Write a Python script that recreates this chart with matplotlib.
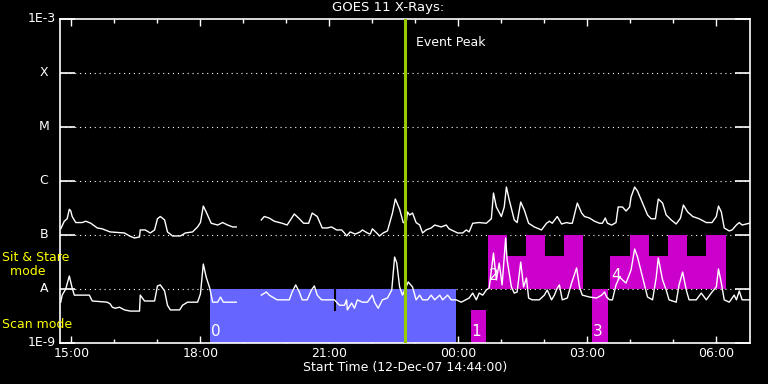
import numpy as np
import matplotlib
matplotlib.use("Agg")
import matplotlib.pyplot as plt
from matplotlib.transforms import blended_transform_factory

# time in minutes after the start time (12-Dec-07 14:44:00)
start_hour, start_min = 14, 44

# long channel (upper curve), flux in W/m^2, NaN marks the data gap
long_t = [1, 6, 10, 13, 15, 17, 22, 31, 36, 43, 52, 59, 70, 90, 97, 104, 111, 112, 119, 126,
          132, 136, 140, 146, 150, 157, 168, 175, 185, 192, 196, 200, 204, 211, 220, 227, 234,
          241, 246, 263,
          281, 285, 292, 299, 310, 317, 327, 334, 340, 347, 352, 359, 366, 373, 379, 386, 393,
          397, 400, 405, 412, 419, 422, 429, 433, 436, 442, 446, 451, 457, 464, 468, 474, 479,
          483, 485, 488, 492, 497, 502, 506, 511, 518, 523, 532, 539, 543, 555, 562, 567, 571,
          576, 585, 595, 602, 605, 609, 616, 620, 623, 627, 634, 638, 643, 648, 654, 662, 672,
          679, 683, 687, 694, 700, 707, 711, 715, 722, 728, 732, 739, 746, 753, 757, 761, 764,
          770, 776, 779, 785, 790, 795, 797, 802, 806, 813, 820, 825, 831, 835, 841, 846, 853,
          860, 866, 870, 876, 883, 892, 902, 910, 916, 919, 923, 927, 934, 938, 944, 948, 952,
          958, 962]
long_flux = [1.3e-7, 1.8e-7, 2.0e-7, 3.0e-7, 2.8e-7, 2.2e-7, 1.7e-7, 1.7e-7, 1.8e-7, 1.65e-7,
             1.35e-7, 1.3e-7, 1.14e-7, 1.09e-7, 9.6e-8, 8.8e-8, 9.2e-8, 1.24e-7, 1.24e-7, 1.09e-7,
             1.24e-7, 2.0e-7, 2.2e-7, 1.9e-7, 1.14e-7, 9.6e-8, 9.6e-8, 1.09e-7, 1.14e-7, 1.41e-7,
             1.7e-7, 3.44e-7, 2.67e-7, 1.65e-7, 1.53e-7, 1.7e-7, 1.53e-7, 1.41e-7, 1.41e-7, np.nan,
             1.9e-7, 2.2e-7, 2.06e-7, 1.8e-7, 1.65e-7, 1.53e-7, 2.45e-7, 2.0e-7, 1.65e-7, 1.65e-7,
             2.55e-7, 2.2e-7, 1.35e-7, 1.35e-7, 1.41e-7, 1.24e-7, 1.24e-7, 1.09e-7, 9.6e-8, 1.14e-7,
             1.04e-7, 1.14e-7, 1.24e-7, 1.09e-7, 1.04e-7, 1.3e-7, 1.09e-7, 9.6e-8, 1.09e-7, 1.19e-7,
             2.55e-7, 4.64e-7, 3.0e-7, 1.7e-7, 1.65e-7, 2.67e-7, 2.35e-7, 2.55e-7, 1.7e-7, 1.53e-7,
             1.09e-7, 1.24e-7, 1.35e-7, 1.53e-7, 1.41e-7, 1.53e-7, 1.3e-7, 1.09e-7, 1.09e-7, 1.24e-7,
             1.14e-7, 1.65e-7, 1.7e-7, 1.65e-7, 2.0e-7, 5.99e-7, 3.3e-7, 2.2e-7, 3.3e-7, 7.74e-7,
             4.45e-7, 1.9e-7, 1.7e-7, 4.08e-7, 2.9e-7, 1.65e-7, 1.41e-7, 1.24e-7, 1.65e-7, 1.8e-7,
             1.65e-7, 2.2e-7, 1.6e-7, 1.7e-7, 1.65e-7, 1.65e-7, 3.91e-7, 2.55e-7, 2.2e-7, 2.06e-7,
             1.8e-7, 1.65e-7, 1.65e-7, 2.06e-7, 1.65e-7, 1.53e-7, 1.7e-7, 3.3e-7, 3.3e-7, 2.78e-7,
             3.3e-7, 5.05e-7, 7.74e-7, 6.52e-7, 3.91e-7, 2.35e-7, 2.0e-7, 2.0e-7, 4.64e-7, 3.91e-7,
             2.35e-7, 1.9e-7, 1.6e-7, 2.06e-7, 3.59e-7, 2.67e-7, 2.2e-7, 2.0e-7, 1.7e-7, 1.7e-7,
             2.2e-7, 3.44e-7, 2.67e-7, 1.35e-7, 1.19e-7, 1.24e-7, 1.53e-7, 1.7e-7, 1.53e-7, 1.6e-7,
             1.65e-7]

# short channel (lower curve)
short_t = [1, 3, 8, 13, 17, 20, 41, 45, 66, 70, 73, 77, 83, 90, 98, 111, 112, 118, 132, 136,
           140, 146, 150, 154, 167, 171, 178, 192, 196, 200, 204, 209, 213, 220, 224, 228, 246,
           263,
           281, 288, 292, 303, 320, 324, 329, 334, 338, 345, 351, 355, 359, 365, 383, 386, 390,
           397, 400, 401, 407, 411, 415, 422, 429, 436, 439, 444, 450, 457, 463, 467, 470, 474,
           478, 483, 486, 492, 497, 502, 506, 513, 518, 523, 530, 534, 541, 546, 553, 560, 571,
           576, 581, 585, 590, 595, 599, 605, 609, 613, 617, 622, 624, 630, 634, 638, 643, 647,
           651, 654, 659, 669, 676, 680, 686, 690, 694, 697, 701, 708, 714, 721, 725, 729, 739,
           749, 756, 760, 763, 767, 771, 776, 781, 785, 790, 797, 802, 806, 813, 820, 827, 832,
           835, 841, 846, 850, 860, 864, 869, 874, 878, 888, 895, 902, 910, 916, 919, 923, 927,
           934, 941, 944, 948, 952, 962]
short_flux = [5.7e-9, 7.7e-9, 1.0e-8, 1.74e-8, 1.04e-8, 7.7e-9, 7.7e-9, 6.0e-9, 5.7e-9, 5.3e-9,
              4.6e-9, 4.4e-9, 4.6e-9, 4.1e-9, 3.9e-9, 3.9e-9, 7.7e-9, 6.0e-9, 6.0e-9, 1.14e-8,
              1.19e-8, 9.2e-9, 5.0e-9, 4.1e-9, 4.1e-9, 5.0e-9, 5.7e-9, 5.7e-9, 8.1e-9, 2.9e-8,
              1.67e-8, 1.04e-8, 5.7e-9, 5.7e-9, 7.1e-9, 5.7e-9, 5.7e-9, np.nan,
              7.7e-9, 8.8e-9, 7.7e-9, 6.3e-9, 6.3e-9, 8.8e-9, 1.19e-8, 8.8e-9, 6.3e-9, 6.3e-9,
              9.6e-9, 1.14e-8, 7.7e-9, 6.3e-9, 6.3e-9, 5.7e-9, 5.0e-9, 5.0e-9, 6.3e-9, 4.1e-9,
              5.5e-9, 4.4e-9, 6.3e-9, 5.7e-9, 5.7e-9, 7.7e-9, 5.7e-9, 4.4e-9, 6.3e-9, 6.8e-9,
              9.6e-9, 3.91e-8, 3.03e-8, 1.09e-8, 7.7e-9, 1.09e-8, 1.35e-8, 1.09e-8, 6.3e-9, 7.7e-9,
              6.3e-9, 6.3e-9, 7.7e-9, 6.3e-9, 7.7e-9, 6.3e-9, 7.7e-9, 6.3e-9, 6.3e-9, 5.7e-9,
              6.8e-9, 8.4e-9, 6.3e-9, 8.4e-9, 7.7e-9, 9.6e-9, 1.04e-8, 4.64e-8, 1.47e-8, 3.03e-8,
              1.19e-8, 8.8e-8, 3.44e-8, 1.09e-8, 8.4e-9, 8.8e-9, 3.16e-8, 1.09e-8, 1.6e-8, 6.8e-9,
              6.3e-9, 6.3e-9, 7.7e-9, 9.6e-9, 6.3e-9, 7.7e-9, 1.04e-8, 1.19e-8, 6.3e-9, 6.8e-9,
              1.29e-8, 2.45e-8, 1.09e-8, 7.7e-9, 7.1e-9, 6.8e-9, 7.7e-9, 8.8e-9, 7.1e-9, 6.3e-9,
              6.3e-9, 1.19e-8, 1.67e-8, 1.47e-8, 1.29e-8, 2.25e-8, 5.5e-8, 3.91e-8, 1.67e-8, 7.1e-9,
              6.3e-9, 1.6e-8, 3.75e-8, 1.47e-8, 9.6e-9, 6.3e-9, 5.7e-9, 1.19e-8, 2.06e-8, 9.6e-9,
              6.3e-9, 6.3e-9, 8.4e-9, 6.3e-9, 8.8e-9, 1.09e-8, 2.35e-8, 1.29e-8, 6.3e-9, 5.7e-9,
              7.7e-9, 6.3e-9, 9.2e-9, 6.3e-9, 6.3e-9]

# observing blocks: step edges (minutes), step tops and baseline flux
block_labels = ["0", "1", "2", "3", "4"]
block_edges = [[210, 553], [573, 595], [598, 624, 651, 677, 704, 730], [743, 765],
               [768, 795, 822, 848, 875, 902, 929]]
block_tops = [[1e-8], [4.1e-9], [1e-7, 4.1e-8, 1e-7, 4.1e-8, 1e-7], [1e-8],
              [4.1e-8, 1e-7, 4.1e-8, 1e-7, 4.1e-8, 1e-7]]
block_base = [1e-9, 1e-9, 1e-8, 1e-9, 1e-8]
block_colors = ["#6666ff", "#cc00cc", "#cc00cc", "#cc00cc", "#cc00cc"]

# short break inside scan block 0
scan_break_t = 384
scan_break_flux = [4.1e-9, 1e-8]

event_peak = 482
t_end = 963

level_vals = [1e-9, 1e-8, 1e-7, 1e-6, 1e-5, 1e-4, 1e-3]
level_names = ["1E-9", "A", "B", "C", "M", "X", "1E-3"]
hour_ticks = [15, 18, 21, 0, 3, 6]

W, H = 768, 384
fig = plt.figure(figsize=(W / 100, H / 100), dpi=100, facecolor="black")
ax = fig.add_axes([60 / W, 1 - 343 / H, 690 / W, 324 / H], facecolor="black")
ax.set_yscale("log")
ax.set_ylim(1e-9, 1e-3)
ax.set_xlim(0, t_end)

for s in ax.spines.values():
    s.set_color("white")
    s.set_linewidth(1.2)

# dotted class levels
for v in level_vals[1:-1]:
    ax.axhline(v, color="white", lw=0.8, ls=(0, (1, 3.4)), zorder=1)

for lab, edges, tops, base, col in zip(block_labels, block_edges, block_tops, block_base, block_colors):
    ax.stairs(tops, edges, baseline=base, fill=True, color=col, lw=0, zorder=2)
    ly = 1.6e-9 if base < 5e-9 else 1.8e-8
    ax.text(edges[0] + 1, ly, lab, color="white", fontsize=11, ha="left", va="center", zorder=4)

ax.plot([scan_break_t, scan_break_t], scan_break_flux, color="black", lw=1.5, zorder=2.5)

ax.plot(long_t, long_flux, color="white", lw=1.0, zorder=3)
ax.plot(short_t, short_flux, color="white", lw=1.0, zorder=3)

ax.axvline(event_peak, color="#99cc00", lw=2.2, zorder=5)
ax.text(event_peak + 15, 10 ** -3.44, "Event Peak", color="white", fontsize=9, va="center")

# x ticks: hours of day
def to_min(h):
    return ((h - start_hour) % 24) * 60 - start_min

major = [to_min(h) for h in hour_ticks]
minor = [m for m in range(to_min(15), t_end, 60)]
ax.set_xticks(major)
ax.set_xticklabels(["%02d:00" % h for h in hour_ticks])
ax.set_xticks(minor, minor=True)
ax.tick_params(axis="x", which="major", direction="in", length=5, width=1, color="white",
               top=True, bottom=True, labelcolor="white", labelsize=9, pad=3)
ax.tick_params(axis="x", which="minor", direction="in", length=2.6, width=1, color="white",
               top=True, bottom=True)

ax.set_yticks(level_vals)
ax.set_yticklabels([])
ax.yaxis.set_minor_locator(matplotlib.ticker.NullLocator())
ax.tick_params(axis="y", which="major", direction="in", length=10.8, width=1.2, color="white",
               left=True, right=True)

tr = blended_transform_factory(ax.transAxes, ax.transData)
for v, name in zip(level_vals, level_names):
    if name.startswith("1E"):
        ax.text(-0.006, v, name, transform=tr, color="white", fontsize=9, ha="right", va="center")
    else:
        ax.text(-0.0232, v, name, transform=tr, color="white", fontsize=9, ha="center", va="center")

ax.text(-0.084, 10 ** -7.54, "Sit & Stare\n  mode", transform=tr, color="yellow", fontsize=9,
        ha="left", va="center", linespacing=1.1)
ax.text(-0.084, 10 ** -8.65, "Scan mode", transform=tr, color="yellow", fontsize=9,
        ha="left", va="center")

fig.text(388 / W, 1 - 8 / H, "GOES 11 X-Rays:", color="white", fontsize=9.5, ha="center", va="center")
fig.text(405 / W, 1 - 368 / H, "Start Time (12-Dec-07 %02d:%02d:00)" % (start_hour, start_min),
         color="white", fontsize=9, ha="center", va="center")

fig.savefig("out.png", dpi=100, facecolor="black")
